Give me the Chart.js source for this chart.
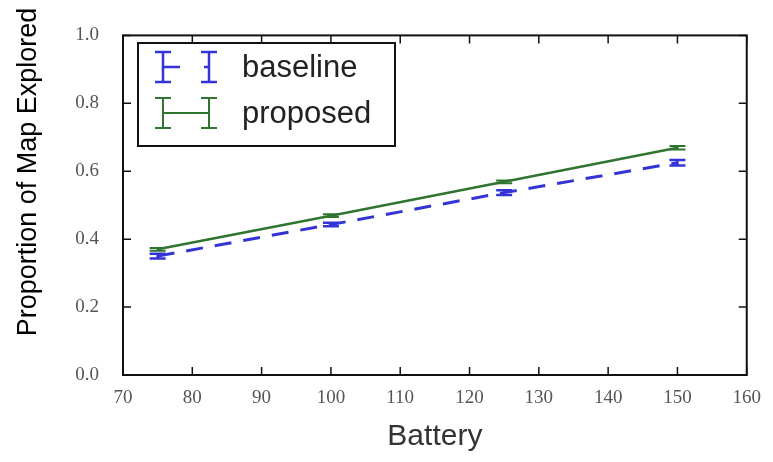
<!DOCTYPE html>
<html>
<head>
<meta charset="utf-8">
<script src="https://cdn.jsdelivr.net/npm/chart.js@4/dist/chart.umd.min.js"></script>
<style>
  html, body { margin: 0; padding: 0; background: #fff; }
  #wrap { width: 773px; height: 462px; position: relative; }
</style>
</head>
<body>
<div id="wrap"><canvas id="chart" width="773" height="462"></canvas></div>
<script>
// data
const battery = [75, 100, 125, 150];
const baseline = [0.35, 0.443, 0.537, 0.625];
const baselineErr = [0.007, 0.005, 0.007, 0.008];
const proposed = [0.37, 0.469, 0.569, 0.669];
const proposedErr = [0.004, 0.004, 0.004, 0.005];
const xTicks = [70, 80, 90, 100, 110, 120, 130, 140, 150, 160];
const yTicks = [0.0, 0.2, 0.4, 0.6, 0.8, 1.0];
const yTitle = 'Proportion of Map Explored';

const BLUE = '#3434d6';
const GREEN = '#2f742f';

function pts(xs, ys) {
    return xs.map((x, i) => ({ x: x, y: ys[i] }));
}

// error bars, frame with inward ticks, the legend box and the y title
const decorations = {
    id: 'decorations',
    afterDatasetsDraw(chart) {
        const c = chart.ctx;
        const xs = chart.scales.x, ys = chart.scales.y;
        const area = chart.chartArea;

        const bars = [[baseline, baselineErr, BLUE, 2.5], [proposed, proposedErr, GREEN, 2]];
        bars.forEach(([vals, errs, col, w]) => {
            c.save();
            c.strokeStyle = col;
            c.lineWidth = w;
            battery.forEach((b, i) => {
                const px = xs.getPixelForValue(b);
                const lo = ys.getPixelForValue(vals[i] - errs[i]);
                const hi = ys.getPixelForValue(vals[i] + errs[i]);
                c.beginPath();
                c.moveTo(px, lo); c.lineTo(px, hi);
                c.moveTo(px - 8, lo); c.lineTo(px + 8, lo);
                c.moveTo(px - 8, hi); c.lineTo(px + 8, hi);
                c.stroke();
            });
            c.restore();
        });

        // frame
        c.save();
        c.strokeStyle = '#111';
        c.lineWidth = 2;
        c.strokeRect(area.left, area.top, area.right - area.left, area.bottom - area.top);
        c.lineWidth = 1.5;
        c.beginPath();
        xTicks.forEach(t => {
            const px = xs.getPixelForValue(t);
            c.moveTo(px, area.bottom); c.lineTo(px, area.bottom - 8);
            c.moveTo(px, area.top); c.lineTo(px, area.top + 8);
        });
        yTicks.forEach(t => {
            const py = ys.getPixelForValue(t);
            c.moveTo(area.left, py); c.lineTo(area.left + 8, py);
            c.moveTo(area.right, py); c.lineTo(area.right - 8, py);
        });
        c.stroke();
        c.restore();

        // legend
        const lx = 138, ly = 43, lw = 257, lh = 103;
        c.save();
        c.fillStyle = '#fff';
        c.fillRect(lx, ly, lw, lh);
        c.strokeStyle = '#111';
        c.lineWidth = 2;
        c.strokeRect(lx, ly, lw, lh);

        const rows = [
            { label: 'baseline', color: BLUE, y: 67, dash: [17, 24], width: 2.5 },
            { label: 'proposed', color: GREEN, y: 113, dash: [], width: 2 }
        ];
        rows.forEach(r => {
            c.strokeStyle = r.color;
            c.lineWidth = r.width;
            c.setLineDash(r.dash);
            c.beginPath();
            c.moveTo(163, r.y); c.lineTo(209, r.y);
            c.stroke();
            c.setLineDash([]);
            c.beginPath();
            [163, 209].forEach(cx => {
                c.moveTo(cx, r.y - 15); c.lineTo(cx, r.y + 15);
                c.moveTo(cx - 8, r.y - 15); c.lineTo(cx + 8, r.y - 15);
                c.moveTo(cx - 8, r.y + 15); c.lineTo(cx + 8, r.y + 15);
            });
            c.stroke();
            c.fillStyle = '#222';
            c.font = '31px "Liberation Sans", Arial, sans-serif';
            c.textBaseline = 'middle';
            c.textAlign = 'left';
            c.fillText(r.label, 242, r.y + 1);
        });
        c.restore();

        // y title (sits above the axis centre in the reference)
        c.save();
        c.translate(29, 172);
        c.rotate(-Math.PI / 2);
        c.fillStyle = '#000';
        c.font = '27px "Liberation Sans", Arial, sans-serif';
        c.textAlign = 'center';
        c.textBaseline = 'middle';
        c.fillText(yTitle, 0, 0);
        c.restore();
    }
};

new Chart(document.getElementById('chart'), {
    type: 'line',
    data: {
        datasets: [
            {
                label: 'baseline',
                data: pts(battery, baseline),
                borderColor: BLUE,
                borderWidth: 3,
                borderDash: [17, 12],
                pointRadius: 0,
                fill: false,
                tension: 0
            },
            {
                label: 'proposed',
                data: pts(battery, proposed),
                borderColor: GREEN,
                borderWidth: 2.5,
                pointRadius: 0,
                fill: false,
                tension: 0
            }
        ]
    },
    options: {
        responsive: false,
        animation: false,
        layout: { padding: { top: 27, right: 25, left: 0, bottom: 0 } },
        plugins: {
            legend: { display: false },
            tooltip: { enabled: false }
        },
        scales: {
            x: {
                type: 'linear',
                min: 70,
                max: 160,
                afterBuildTicks: axis => { axis.ticks = xTicks.map(v => ({ value: v })); },
                afterFit: axis => { axis.height = 87; },
                grid: { display: false, drawTicks: false },
                border: { display: false },
                ticks: {
                    padding: 12,
                    color: '#555',
                    font: { family: '"Liberation Serif", "Times New Roman", serif', size: 19 },
                    callback: v => String(v)
                },
                title: {
                    display: true,
                    text: 'Battery',
                    color: '#333',
                    font: { family: '"Liberation Sans", Arial, sans-serif', size: 30 },
                    padding: { top: 0, bottom: 7 }
                }
            },
            y: {
                min: 0,
                max: 1,
                afterBuildTicks: axis => { axis.ticks = yTicks.map(v => ({ value: v })); },
                afterFit: axis => { axis.width = 123; },
                grid: { display: false, drawTicks: false },
                border: { display: false },
                ticks: {
                    padding: 24,
                    color: '#555',
                    font: { family: '"Liberation Serif", "Times New Roman", serif', size: 19 },
                    callback: v => v.toFixed(1)
                },
                title: { display: false }
            }
        }
    },
    plugins: [decorations]
});
</script>
</body>
</html>
